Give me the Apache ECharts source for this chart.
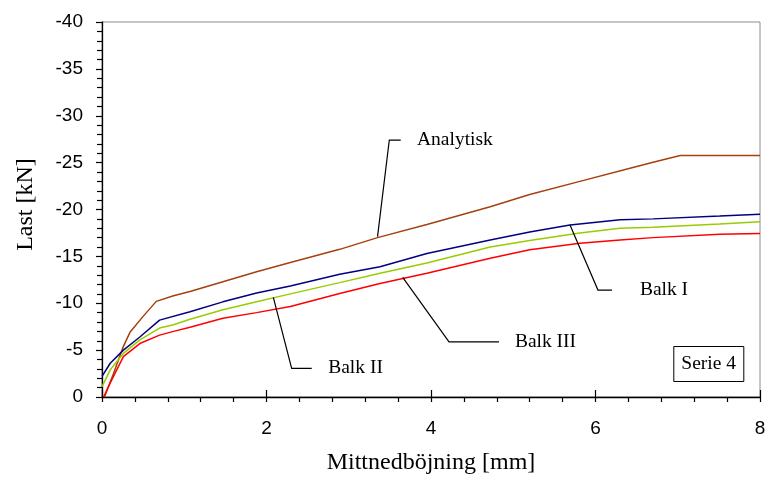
<!DOCTYPE html>
<html>
<head>
<meta charset="utf-8">
<script src="https://cdn.jsdelivr.net/npm/echarts@6/dist/echarts.min.js"></script>
<style>
  html, body { margin: 0; padding: 0; background: #fff; }
  #chart { width: 768px; height: 478px; }
</style>
</head>
<body>
<div id="chart"></div>
<script>
// Deflection [mm] vs load [kN] for the four curves of test series 4
const analytisk = [
  [0.03, 0], [0.14, -2.5], [0.26, -5.4], [0.34, -6.9], [0.5, -8.6], [0.66, -10.2],
  [0.87, -10.8], [1.07, -11.25], [1.47, -12.3], [1.88, -13.35], [2.29, -14.35],
  [2.89, -15.75], [3.35, -17.0], [3.95, -18.4], [4.72, -20.3], [5.2, -21.6],
  [5.81, -23.0], [6.42, -24.4], [6.7, -25.05], [7.03, -25.75], [8, -25.75]
];
const balkI = [
  [0, -2.2], [0.1, -3.6], [0.26, -5.0], [0.46, -6.4], [0.7, -8.2], [1.07, -9.1],
  [1.47, -10.15], [1.88, -11.1], [2.29, -11.85], [2.89, -13.1], [3.38, -13.9],
  [3.95, -15.3], [4.72, -16.75], [5.2, -17.6], [5.69, -18.35], [6.3, -18.9],
  [6.7, -19.0], [7.51, -19.3], [8, -19.5]
];
const balkII = [
  [0, -1.1], [0.1, -2.9], [0.26, -4.65], [0.46, -6.1], [0.7, -7.35], [0.87, -7.7],
  [1.07, -8.3], [1.47, -9.3], [1.88, -10.15], [2.29, -11.0], [2.89, -12.2],
  [3.38, -13.2], [3.95, -14.3], [4.72, -16.0], [5.2, -16.7], [5.81, -17.5],
  [6.3, -18.0], [6.7, -18.1], [7.51, -18.45], [8, -18.7]
];
const balkIII = [
  [0.02, 0], [0.1, -1.5], [0.26, -4.3], [0.46, -5.7], [0.7, -6.6], [0.87, -7.0],
  [1.07, -7.45], [1.47, -8.4], [1.88, -9.0], [2.29, -9.65], [2.89, -11.05],
  [3.38, -12.1], [3.95, -13.2], [4.72, -14.8], [5.2, -15.7], [5.81, -16.4],
  [6.3, -16.75], [6.7, -17.0], [7.51, -17.35], [8, -17.45]
];

// Axis ranges
const xRange = { min: 0, max: 8, interval: 2 };
const yRange = { min: -40, max: 0, interval: 5 };

// Curve labels with leader lines, in data coordinates: tip on curve, corner, end of horizontal, text anchor
const callouts = [
  { text: 'Analytisk', tip: [3.35, -17.1], corner: [3.493, -27.41], end: [3.632, -27.41], at: [3.83, -27.41] },
  { text: 'Balk I',    tip: [5.69, -18.35], corner: [6.03, -11.41], end: [6.2, -11.41], at: [6.54, -11.41] },
  { text: 'Balk III',  tip: [3.656, -12.77], corner: [4.219, -5.87], end: [4.827, -5.87], at: [5.02, -5.87] },
  { text: 'Balk II',   tip: [2.083, -10.63], corner: [2.306, -3.06], end: [2.55, -3.06], at: [2.75, -3.06] }
];

const SERIF = '"Liberation Serif", "Times New Roman", serif';
const SANS = '"Liberation Sans", Arial, sans-serif';

const chart = echarts.init(document.getElementById('chart'), null, { renderer: 'canvas' });

function lineSeries(name, data, color) {
  return {
    name, type: 'line', data, showSymbol: false, symbol: 'none',
    lineStyle: { color, width: 1.5 }, animation: false, z: 3
  };
}

chart.setOption({
  animation: false,
  backgroundColor: '#fff',
  title: {
    text: 'Serie 4', right: 24, top: 346,
    padding: [8, 8, 8, 8],
    borderColor: '#000', borderWidth: 1,
    textStyle: { fontFamily: SERIF, fontSize: 19.5, fontWeight: 'normal', color: '#000' }
  },
  grid: {
    left: 102, right: 8, top: 22, bottom: 81,
    outerBoundsMode: 'none', containLabel: false,
    show: true, borderColor: '#8c8c8c', borderWidth: 1, backgroundColor: 'transparent'
  },
  xAxis: [
    {
      type: 'value', min: xRange.min, max: xRange.max, interval: xRange.interval,
      name: 'Mittnedböjning [mm]', nameLocation: 'middle', nameGap: 54,
      nameTextStyle: { fontFamily: SERIF, fontSize: 24, color: '#000' },
      axisLine: { show: true, onZero: false, lineStyle: { color: '#000', width: 1.3 } },
      axisTick: { show: true, length: 5, lineStyle: { color: '#000', width: 1.2 } },
      minorTick: { show: true, splitNumber: 5, length: 5, lineStyle: { color: '#000', width: 1.2 } },
      axisLabel: { margin: 22, fontFamily: SANS, fontSize: 19, color: '#000' },
      splitLine: { show: false }
    },
    {
      // inner half of the major x ticks
      type: 'value', min: xRange.min, max: xRange.max, interval: xRange.interval,
      position: 'bottom',
      axisLine: { show: false },
      axisTick: { show: true, inside: true, length: 7, lineStyle: { color: '#000', width: 1.2 } },
      axisLabel: { show: false },
      splitLine: { show: false }
    }
  ],
  yAxis: {
    type: 'value', min: yRange.min, max: yRange.max, interval: yRange.interval,
    inverse: true,
    name: 'Last [kN]', nameLocation: 'middle', nameGap: 64, nameRotate: 90,
    nameTextStyle: { fontFamily: SERIF, fontSize: 24, color: '#000', padding: [0, 0, 0, 10] },
    axisLine: { show: true, onZero: false, lineStyle: { color: '#000', width: 1.3 } },
    axisTick: { show: true, length: 6, lineStyle: { color: '#000', width: 1.2 } },
    minorTick: { show: true, splitNumber: 5, length: 5, lineStyle: { color: '#000', width: 1.2 } },
    axisLabel: { margin: 19, fontFamily: SANS, fontSize: 19, color: '#000' },
    splitLine: { show: false }
  },
  series: [
    lineSeries('Analytisk', analytisk, '#a5400f'),
    lineSeries('Balk I', balkI, '#000080'),
    lineSeries('Balk II', balkII, '#99cc00'),
    lineSeries('Balk III', balkIII, '#ff0000')
  ]
});

// Leader lines and labels placed through the axes' own coordinate conversion
function px(p) { return chart.convertToPixel({ gridIndex: 0 }, p); }
const elements = [];
callouts.forEach(function (c) {
  elements.push({
    type: 'polyline', z: 10,
    shape: { points: [px(c.tip), px(c.corner), px(c.end)] },
    style: { stroke: '#000', lineWidth: 1.2, fill: null }
  });
  const a = px(c.at);
  elements.push({
    type: 'text', z: 10, x: a[0], y: a[1],
    style: { text: c.text, font: '19.5px ' + SERIF, fill: '#000', verticalAlign: 'middle', align: 'left' }
  });
});
chart.setOption({ graphic: elements });
</script>
</body>
</html>
